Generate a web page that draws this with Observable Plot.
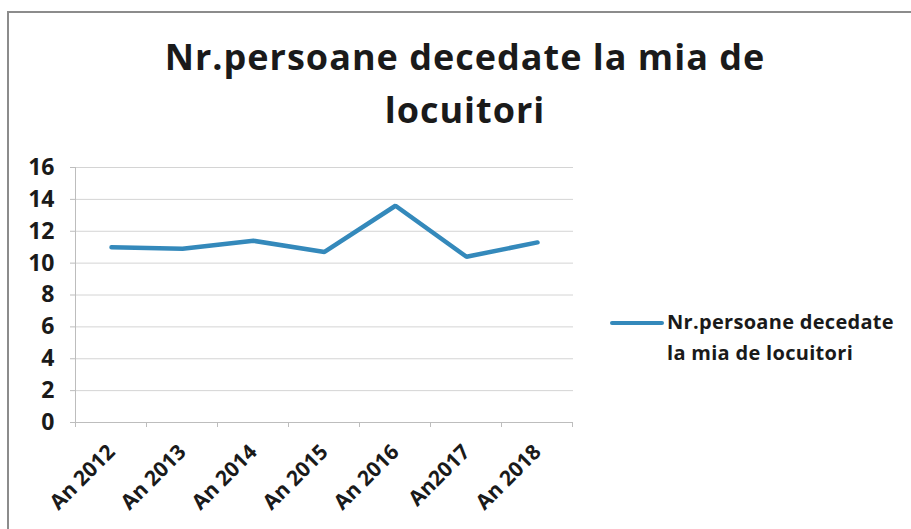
<!DOCTYPE html>
<html>
<head>
<meta charset="utf-8">
<script src="https://cdn.jsdelivr.net/npm/d3@7"></script>
<script src="https://cdn.jsdelivr.net/npm/@observablehq/plot@0.6"></script>
<style>
  body { margin: 0; background: #fff; }
  #wrap { position: relative; width: 911px; height: 529px; overflow: hidden; font-family: "Open Sans", Lato, sans-serif; color: #1a1a1a; }
  #frame { position: absolute; left: 7px; top: 11px; width: 960px; height: 600px; border-left: 2px solid #8c8c8c; border-top: 2px solid #8c8c8c; }
  #chart { position: absolute; left: 0; top: 0; }
  #title { position: absolute; left: 65px; width: 800px; top: 30px; text-align: center; font-weight: 700; font-size: 36px; line-height: 53px; letter-spacing: 1px; }
  #legend { position: absolute; left: 610px; top: 306px; display: flex; align-items: flex-start; }
  #legend .sw { width: 54px; height: 4px; background: #3489bb; margin-top: 15px; margin-right: 3px; border-radius: 2px; }
  #legend .tx { font-weight: 700; font-size: 20px; line-height: 31px; letter-spacing: 0.3px; }
</style>
</head>
<body>
<div id="wrap">
  <div id="frame"></div>
  <div id="chart"></div>
  <div id="title">Nr.persoane decedate la mia de<br>locuitori</div>
  <div id="legend"><div class="sw"></div><div class="tx" id="legtext"></div></div>
</div>
<script>
const years = ["An 2012", "An 2013", "An 2014", "An 2015", "An 2016", "An2017", "An 2018"];
const values = [11.0, 10.9, 11.4, 10.7, 13.6, 10.4, 11.3];
const yTicks = [0, 2, 4, 6, 8, 10, 12, 14, 16];
const seriesName = "Nr.persoane decedate la mia de locuitori";
const lineColor = "#3489bb";

const data = years.map((y, i) => ({year: y, value: values[i]}));

const chart = Plot.plot({
  width: 911,
  height: 529,
  marginTop: 167,
  marginBottom: 107,
  marginLeft: 75,
  marginRight: 338,
  style: {background: "transparent", fontFamily: "'Open Sans', Lato, sans-serif"},
  x: {type: "point", domain: years, padding: 0.5, label: null},
  y: {domain: [0, 16], label: null},
  marks: [
    Plot.gridY(yTicks, {stroke: "#d4d4d4", strokeOpacity: 1}),
    Plot.frame({anchor: "left", stroke: "#bdbdbd"}),
    Plot.ruleY([0], {stroke: "#bdbdbd"}),
    Plot.axisY(yTicks, {tickSize: 5, text: null, stroke: "#bdbdbd", label: null}),
    Plot.axisY(yTicks, {tickSize: 0, tickPadding: 21, fontSize: 23, fontWeight: "bold", fill: "#1a1a1a", label: null}),
    Plot.axisX({tickSize: 0, tickPadding: 26, tickRotate: -45, fontSize: 21, fontWeight: "bold", fill: "#1a1a1a", label: null}),
    Plot.line(data, {x: "year", y: "value", stroke: lineColor, strokeWidth: 4.5, strokeLinejoin: "miter"})
  ]
});
document.getElementById("chart").appendChild(chart);

// category boundary ticks on the x axis, placed with Plot's own x and y scales
const sx = chart.scale("x"), sy = chart.scale("y");
const step = sx.apply(years[1]) - sx.apply(years[0]);
const bounds = years.map(y => sx.apply(y) - step / 2).concat([sx.apply(years[years.length - 1]) + step / 2]);
const y0 = sy.apply(0);
d3.select(chart).append("g")
  .attr("stroke", "#bdbdbd")
  .selectAll("line").data(bounds).join("line")
  .attr("x1", d => d).attr("x2", d => d)
  .attr("y1", y0).attr("y2", y0 + 5);

document.getElementById("legtext").innerHTML = "Nr.persoane decedate<br>la mia de locuitori";
</script>
</body>
</html>
